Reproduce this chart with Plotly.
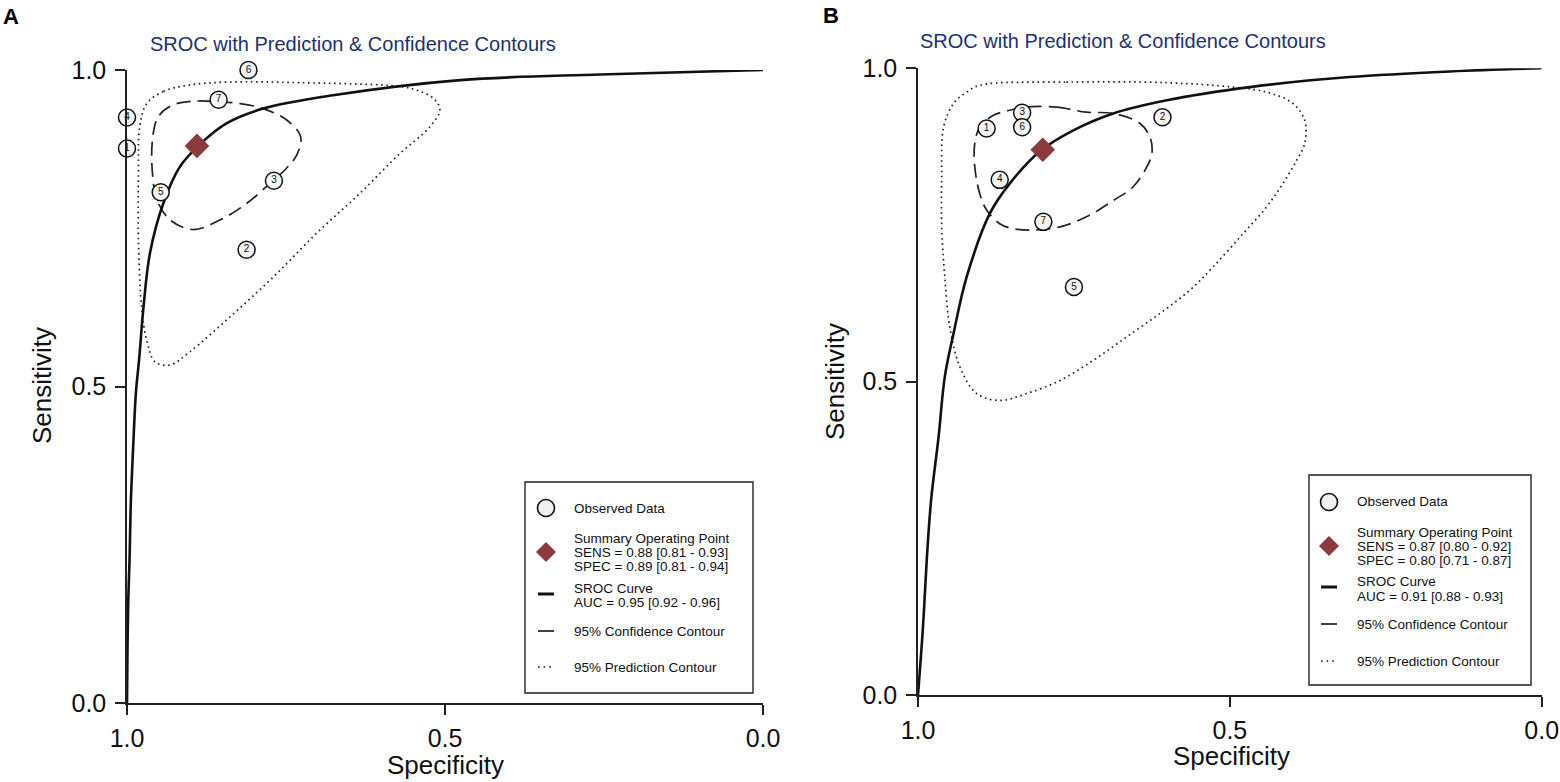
import plotly.graph_objects as go

W, H = 1560, 782

# ---- dane (A) ----
a_study = ["1", "2", "3", "4", "5", "6", "7"]
a_spec = [1.0, 0.812, 0.769, 1.0, 0.947, 0.809, 0.856]
a_sens = [0.876, 0.716, 0.825, 0.925, 0.807, 1.0, 0.953]
a_sum_spec, a_sum_sens = 0.89, 0.88

a_sroc_spec = [1.0, 0.9993, 0.998, 0.996, 0.994, 0.990, 0.986, 0.981, 0.974, 0.964,
               0.943, 0.917, 0.887, 0.843, 0.786, 0.676, 0.476, 0.256, 0.0]
a_sroc_sens = [0.0, 0.08, 0.163, 0.226, 0.316, 0.411, 0.490, 0.542, 0.626, 0.710,
               0.789, 0.847, 0.881, 0.916, 0.939, 0.960, 0.984, 0.993, 1.0]

a_conf_spec = [0.859, 0.822, 0.786, 0.749, 0.727, 0.733, 0.752, 0.775, 0.812, 0.854,
               0.896, 0.932, 0.953, 0.960, 0.960, 0.951, 0.927, 0.890, 0.859]
a_conf_sens = [0.950, 0.947, 0.939, 0.921, 0.895, 0.866, 0.842, 0.821, 0.789, 0.763,
               0.748, 0.763, 0.795, 0.837, 0.889, 0.926, 0.945, 0.951, 0.950]

a_pred_spec = [0.904, 0.943, 0.969, 0.980, 0.982, 0.982, 0.977, 0.969, 0.956, 0.932,
               0.901, 0.838, 0.770, 0.702, 0.634, 0.571, 0.524, 0.508, 0.518, 0.544,
               0.571, 0.728, 0.838, 0.904]
a_pred_sens = [0.976, 0.966, 0.947, 0.910, 0.837, 0.731, 0.626, 0.573, 0.539, 0.534,
               0.555, 0.610, 0.673, 0.742, 0.805, 0.868, 0.910, 0.937, 0.955, 0.968,
               0.974, 0.980, 0.981, 0.976]

a_legend = ["Observed Data",
            "Summary Operating Point", "SENS = 0.88 [0.81 - 0.93]", "SPEC = 0.89 [0.81 - 0.94]",
            "SROC Curve", "AUC = 0.95 [0.92 - 0.96]",
            "95% Confidence Contour", "95% Prediction Contour"]

# ---- dane (B) ----
b_study = ["1", "2", "3", "4", "5", "6", "7"]
b_spec = [0.890, 0.608, 0.833, 0.869, 0.750, 0.833, 0.799]
b_sens = [0.904, 0.922, 0.929, 0.822, 0.651, 0.906, 0.755]
b_sum_spec, b_sum_sens = 0.80, 0.87

b_sroc_spec = [1.0, 0.992, 0.986, 0.979, 0.967, 0.957, 0.943, 0.922, 0.885, 0.853,
               0.804, 0.751, 0.687, 0.601, 0.468, 0.308, 0.147, 0.0]
b_sroc_sens = [0.0, 0.109, 0.215, 0.311, 0.412, 0.508, 0.577, 0.667, 0.768, 0.816,
               0.868, 0.901, 0.928, 0.949, 0.970, 0.986, 0.995, 1.0]

b_conf_spec = [0.831, 0.778, 0.730, 0.687, 0.644, 0.628, 0.625, 0.633, 0.655, 0.687,
               0.730, 0.772, 0.815, 0.847, 0.869, 0.890, 0.901, 0.909, 0.909, 0.901,
               0.879, 0.853, 0.831]
b_conf_sens = [0.938, 0.938, 0.930, 0.928, 0.912, 0.890, 0.864, 0.843, 0.811, 0.789,
               0.763, 0.747, 0.742, 0.744, 0.752, 0.774, 0.800, 0.843, 0.880, 0.906,
               0.925, 0.933, 0.938]

b_pred_spec = [0.901, 0.762, 0.601, 0.495, 0.441, 0.399, 0.380, 0.380, 0.393, 0.415,
               0.441, 0.479, 0.527, 0.564, 0.612, 0.666, 0.719, 0.772, 0.826, 0.869,
               0.906, 0.933, 0.949, 0.957, 0.962, 0.962, 0.959, 0.943, 0.922, 0.901]
b_pred_sens = [0.973, 0.978, 0.977, 0.970, 0.962, 0.944, 0.917, 0.880, 0.853, 0.816,
               0.779, 0.736, 0.683, 0.646, 0.609, 0.571, 0.534, 0.502, 0.481, 0.470,
               0.481, 0.524, 0.587, 0.667, 0.747, 0.827, 0.906, 0.944, 0.962, 0.973]

b_legend = ["Observed Data",
            "Summary Operating Point", "SENS = 0.87 [0.80 - 0.92]", "SPEC = 0.80 [0.71 - 0.87]",
            "SROC Curve", "AUC = 0.91 [0.88 - 0.93]",
            "95% Confidence Contour", "95% Prediction Contour"]

TITLE = "SROC with Prediction & Confidence Contours"
FONT = "Liberation Sans, Arial, sans-serif"
RED = "#8b3a3e"
NAVY = "#1d3170"


def px(x):
    return x / W


def py(y):
    return 1 - y / H


fig = go.Figure()

# uklad pikselowy paneli: (lewo, prawo, dol, gora)
panels = [
    dict(box=(127, 763, 703, 70), ax="x", ay="y",
         study=a_study, spec=a_spec, sens=a_sens, ss=(a_sum_spec, a_sum_sens),
         sroc=(a_sroc_spec, a_sroc_sens), conf=(a_conf_spec, a_conf_sens),
         pred=(a_pred_spec, a_pred_sens), legend=a_legend,
         lbox=(525, 753, 482, 693), lx=546, tx=572,
         ly=[508, 538, 552, 566, 588, 602, 631, 667],
         title_x=148, title_y=44, letter=("A", 11, 16),
         ylab=(42, 386), xlab=(445, 765)),
    dict(box=(918, 1541.7, 695, 68.3), ax="x2", ay="y2",
         study=b_study, spec=b_spec, sens=b_sens, ss=(b_sum_spec, b_sum_sens),
         sroc=(b_sroc_spec, b_sroc_sens), conf=(b_conf_spec, b_conf_sens),
         pred=(b_pred_spec, b_pred_sens), legend=b_legend,
         lbox=(1309, 1531, 475, 685), lx=1329, tx=1355,
         ly=[502, 532, 546, 560, 581, 596, 624, 661],
         title_x=918, title_y=41, letter=("B", 831, 15),
         ylab=(835, 382), xlab=(1231, 756)),
]

shapes = []
annotations = []

for i, p in enumerate(panels):
    l, r, b, t = p["box"]
    suffix = "" if i == 0 else "2"
    fig.update_layout(**{
        "xaxis" + suffix: dict(
            domain=[px(l), px(r)], range=[1, 0], anchor=p["ay"], automargin=False,
            tickvals=[1, 0.5, 0], ticktext=["1.0", "0.5", "0.0"],
            ticks="outside", ticklen=10, tickwidth=1.5, tickcolor="#222",
            showline=True, linecolor="#222", linewidth=1.5,
            showgrid=False, zeroline=False, ticklabelstandoff=2,
            tickfont=dict(size=25, color="#111", family=FONT)),
        "yaxis" + suffix: dict(
            domain=[py(b), py(t)], range=[0, 1], anchor=p["ax"], automargin=False,
            tickvals=[0, 0.5, 1], ticktext=["0.0", "0.5", "1.0"],
            ticks="outside", ticklen=10, tickwidth=1.5, tickcolor="#222",
            showline=True, linecolor="#222", linewidth=1.5,
            showgrid=False, zeroline=False, ticklabelstandoff=4,
            tickfont=dict(size=25, color="#111", family=FONT)),
    })

    # kontur predykcji (kropki)
    fig.add_trace(go.Scatter(
        x=p["pred"][0], y=p["pred"][1], mode="lines", line_shape="spline",
        line=dict(color="#222", width=1.7, dash="1.6px,3.6px"),
        xaxis=p["ax"], yaxis=p["ay"], cliponaxis=False, hoverinfo="skip"))
    # kontur ufnosci (kreski)
    fig.add_trace(go.Scatter(
        x=p["conf"][0], y=p["conf"][1], mode="lines", line_shape="spline",
        line=dict(color="#222", width=1.7, dash="14px,7px"),
        xaxis=p["ax"], yaxis=p["ay"], cliponaxis=False, hoverinfo="skip"))
    # krzywa SROC
    fig.add_trace(go.Scatter(
        x=p["sroc"][0], y=p["sroc"][1], mode="lines", line_shape="spline",
        line=dict(color="#111", width=2.6),
        xaxis=p["ax"], yaxis=p["ay"], cliponaxis=False, hoverinfo="skip"))
    # badania
    fig.add_trace(go.Scatter(
        x=p["spec"], y=p["sens"], mode="markers+text", text=p["study"],
        textposition="middle center",
        textfont=dict(size=10, color="#111", family=FONT),
        marker=dict(symbol="circle", size=17, color="#f4f4f4",
                    line=dict(color="#111", width=1.5)),
        xaxis=p["ax"], yaxis=p["ay"], cliponaxis=False))
    # punkt podsumowujacy
    fig.add_trace(go.Scatter(
        x=[p["ss"][0]], y=[p["ss"][1]], mode="markers",
        marker=dict(symbol="diamond", size=19, color=RED),
        xaxis=p["ax"], yaxis=p["ay"], cliponaxis=False))

    # legenda rysowana recznie
    x0, x1, y0, y1 = p["lbox"]
    shapes.append(dict(type="rect", xref="paper", yref="paper",
                       x0=px(x0), x1=px(x1), y0=py(y1), y1=py(y0),
                       line=dict(color="#222", width=1.4), fillcolor="white", layer="above"))
    lx, ly = p["lx"], p["ly"]
    shapes.append(dict(type="circle", xref="paper", yref="paper",
                       x0=px(lx - 8.5), x1=px(lx + 8.5), y0=py(ly[0] + 8.5), y1=py(ly[0] - 8.5),
                       line=dict(color="#111", width=1.6), fillcolor="#f0f0f0", layer="above"))
    dy = ly[2]
    shapes.append(dict(type="path", xref="paper", yref="paper",
                       path=f"M {px(lx - 10)} {py(dy)} L {px(lx)} {py(dy - 10)} "
                            f"L {px(lx + 10)} {py(dy)} L {px(lx)} {py(dy + 10)} Z",
                       line=dict(width=0), fillcolor=RED, layer="above"))
    shapes.append(dict(type="line", xref="paper", yref="paper",
                       x0=px(lx - 8), x1=px(lx + 8), y0=py(ly[4] + 6), y1=py(ly[4] + 6),
                       line=dict(color="#111", width=3), layer="above"))
    shapes.append(dict(type="line", xref="paper", yref="paper",
                       x0=px(lx - 8), x1=px(lx + 8), y0=py(ly[6]), y1=py(ly[6]),
                       line=dict(color="#111", width=1.6), layer="above"))
    shapes.append(dict(type="line", xref="paper", yref="paper",
                       x0=px(lx - 8), x1=px(lx + 8), y0=py(ly[7]), y1=py(ly[7]),
                       line=dict(color="#111", width=1.6, dash="1.6px,4px"), layer="above"))
    for txt, yy in zip(p["legend"], ly):
        annotations.append(dict(text=txt, x=px(p["tx"]), y=py(yy), xref="paper", yref="paper",
                                xanchor="left", yanchor="middle", showarrow=False,
                                font=dict(size=13.5, color="#111", family=FONT)))

    # tytuly i etykiety osi
    annotations.append(dict(text=TITLE, x=px(p["title_x"]), y=py(p["title_y"]),
                            xref="paper", yref="paper", xanchor="left", yanchor="middle",
                            showarrow=False, font=dict(size=20, color=NAVY, family=FONT)))
    letter, lxp, lyp = p["letter"]
    annotations.append(dict(text=f"<b>{letter}</b>", x=px(lxp), y=py(lyp),
                            xref="paper", yref="paper", xanchor="center", yanchor="middle",
                            showarrow=False, font=dict(size=22, color="#000", family=FONT)))
    annotations.append(dict(text="Sensitivity", x=px(p["ylab"][0]), y=py(p["ylab"][1]),
                            xref="paper", yref="paper", xanchor="center", yanchor="middle",
                            textangle=-90, showarrow=False,
                            font=dict(size=26, color="#111", family=FONT)))
    annotations.append(dict(text="Specificity", x=px(p["xlab"][0]), y=py(p["xlab"][1]),
                            xref="paper", yref="paper", xanchor="center", yanchor="middle",
                            showarrow=False, font=dict(size=26, color="#111", family=FONT)))

fig.update_layout(
    width=W, height=H, autosize=False,
    margin=dict(l=0, r=0, t=0, b=0, autoexpand=False),
    paper_bgcolor="white", plot_bgcolor="white",
    showlegend=False, shapes=shapes, annotations=annotations,
    font=dict(family=FONT),
)

fig.write_html("out.html", config={"displayModeBar": False},
               post_script="document.body.style.margin='0';document.body.style.overflow='hidden';")
